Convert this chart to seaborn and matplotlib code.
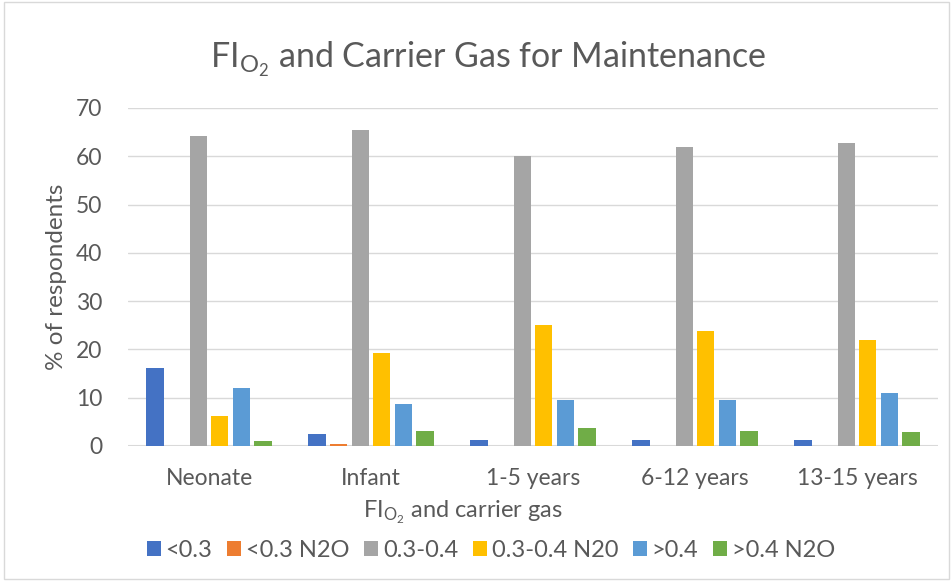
import pandas as pd
import matplotlib
matplotlib.use('Agg')
import matplotlib.pyplot as plt
import seaborn as sns

# values
ages = ['Neonate', 'Infant', '1-5 years', '6-12 years', '13-15 years']
groups = ['<0.3', '<0.3 N2O', '0.3-0.4', '0.3-0.4 N20', '>0.4', '>0.4 N2O']
lt_03 = [16.1, 2.5, 1.3, 1.3, 1.3]
lt_03_n2o = [0.0, 0.5, 0.0, 0.0, 0.0]
mid = [64.2, 65.5, 60.0, 62.0, 62.7]
mid_n2o = [6.3, 19.3, 25.1, 23.8, 21.9]
gt_04 = [12.1, 8.8, 9.6, 9.5, 10.9]
gt_04_n2o = [1.1, 3.1, 3.8, 3.2, 2.8]
colors = ['#4472C4', '#ED7D31', '#A5A5A5', '#FFC000', '#5B9BD5', '#70AD47']

series = [lt_03, lt_03_n2o, mid, mid_n2o, gt_04, gt_04_n2o]
rows = []
for g, vals in zip(groups, series):
    for a, v in zip(ages, vals):
        rows.append({'age': a, 'group': g, 'pct': v})
df = pd.DataFrame(rows)

sns.set_theme(style='white')
plt.rcParams['font.family'] = ['Lato', 'DejaVu Sans']
plt.rcParams['mathtext.fontset'] = 'custom'
plt.rcParams['mathtext.rm'] = 'Lato'
plt.rcParams['mathtext.it'] = 'Lato'
txt = '#595959'

fig = plt.figure(figsize=(9.53, 5.81), dpi=100)
ax = fig.add_axes([128 / 953, 1 - 446 / 581, 810 / 953, 338 / 581])

sns.barplot(data=df, x='age', y='pct', hue='group', hue_order=groups,
            palette=colors, saturation=1, width=0.8, gap=0.2, linewidth=0,
            ax=ax, legend=True)

ax.set_ylim(0, 70)
ax.set_yticks(range(0, 71, 10))
ax.yaxis.grid(True, color='#D9D9D9', linewidth=1)
ax.set_axisbelow(True)
for s in ax.spines.values():
    s.set_visible(False)
ax.axhline(0, color='#D9D9D9', linewidth=1.5, zorder=0)
ax.tick_params(axis='y', length=0, labelsize=16.5, colors=txt, pad=18.5)
ax.tick_params(axis='x', length=0, labelsize=16.5, colors=txt, pad=16)

ax.set_ylabel('% of respondents', fontsize=17.5, color=txt)
ax.yaxis.set_label_coords(-0.0755, 0.5)
ax.set_xlabel(r'FI$_{\mathrm{O_2}}$ and carrier gas', fontsize=17, color=txt)
ax.xaxis.set_label_coords(0.414, -0.155)
fig.suptitle(r'FI$_{\mathrm{O_2}}$ and Carrier Gas for Maintenance',
             fontsize=24.5, color=txt, x=0.512, y=0.931)

ax.legend(loc='upper center', bbox_to_anchor=(0.448, -0.216), ncol=6,
          frameon=False, fontsize=17, handlelength=0.6, handleheight=0.6,
          handletextpad=0.2, columnspacing=0.62, labelcolor=txt)

# light frame around the chart area
fig.patches.append(plt.Rectangle((0.004, 0.004), 0.992, 0.992, transform=fig.transFigure,
                                 fill=False, edgecolor='#D9D9D9', linewidth=1))

fig.savefig('out.png', dpi=100)
